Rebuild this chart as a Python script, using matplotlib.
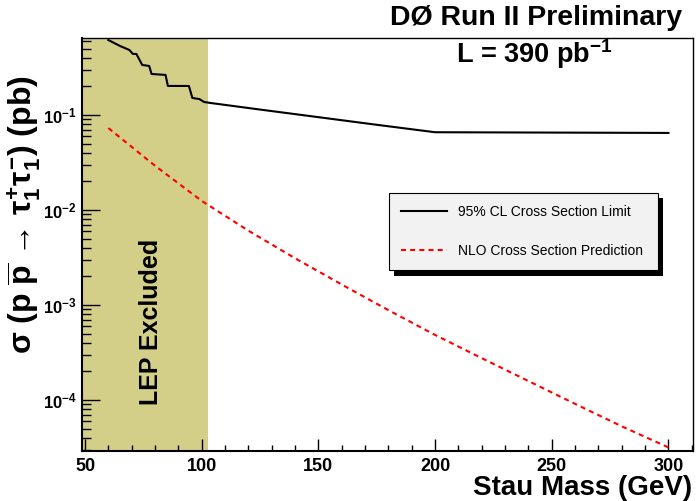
import math
import matplotlib
matplotlib.use('Agg')
import matplotlib.pyplot as plt
from matplotlib.ticker import FixedLocator, LogLocator, FuncFormatter, NullFormatter
from matplotlib.patches import Rectangle

limit_mass = [60, 65, 67, 69, 70.5, 72, 74.5, 77.5, 78.5, 84.5, 85.5, 94.5, 96, 99, 101, 103.5,
              125, 150, 175, 200, 300]
limit_xsec = [0.615, 0.532, 0.507, 0.483, 0.439, 0.439, 0.336, 0.328, 0.270, 0.264, 0.202, 0.202,
              0.151, 0.147, 0.137, 0.134, 0.114, 0.0948, 0.0788, 0.0658, 0.0647]

# NLO prediction
nlo_mass = [60, 80, 100, 120, 140, 160, 180, 200, 220, 240, 260, 280, 300]
nlo_xsec = [0.0728, 0.0292, 0.01245, 0.00605, 0.0031, 0.00164, 0.000881, 0.000483,
            0.000275, 0.000158, 9.08e-5, 5.27e-5, 3.16e-5]

lep_limit = 102.5
x_range = (48.7, 310.5)
y_range = (2.9e-5, 0.646)

plt.rcParams['font.family'] = ['Liberation Sans', 'DejaVu Sans']
plt.rcParams['font.weight'] = 'bold'
plt.rcParams['mathtext.fontset'] = 'custom'
plt.rcParams['mathtext.rm'] = 'Liberation Sans:bold'
plt.rcParams['mathtext.it'] = 'Liberation Sans:bold'
plt.rcParams['mathtext.bf'] = 'Liberation Sans:bold'
plt.rcParams['mathtext.sf'] = 'Liberation Sans:bold'

fig = plt.figure(figsize=(6.97, 5.01), dpi=100)
ax = fig.add_axes([82/697, 50/501, 611/697, 413/501])

ax.set_xlim(*x_range)
ax.set_yscale('log')
ax.set_ylim(*y_range)

ax.axvspan(x_range[0], lep_limit, color='#d3cf89', lw=0, zorder=0)
ax.plot(limit_mass, limit_xsec, color='black', lw=1.5, label='95% CL Cross Section Limit', zorder=3)
ax.plot(nlo_mass, nlo_xsec, color='red', lw=1.5, ls=(0, (2.4, 2.0)),
        label='NLO Cross Section Prediction', zorder=3)

# ticks (ROOT style, inside, only left/bottom)
ax.xaxis.set_major_locator(FixedLocator([50, 100, 150, 200, 250, 300]))
ax.xaxis.set_minor_locator(FixedLocator(list(range(50, 311, 10))))
ax.yaxis.set_major_locator(LogLocator(base=10, numticks=10))
ax.yaxis.set_minor_locator(LogLocator(base=10, subs=range(2, 10), numticks=50))
ax.yaxis.set_minor_formatter(NullFormatter())
ax.yaxis.set_major_formatter(FuncFormatter(lambda v, p: r'$10^{%d}$' % round(math.log10(v))))

ax.tick_params(axis='x', which='major', direction='in', length=8.6, width=1, labelsize=13, pad=5)
ax.tick_params(axis='x', which='minor', direction='in', length=4.3, width=1)
ax.tick_params(axis='y', which='major', direction='in', length=13, width=1, labelsize=12, pad=4)
ax.tick_params(axis='y', which='minor', direction='in', length=6.8, width=1)

for s in ['left', 'bottom']:
    ax.spines[s].set_linewidth(1.5)
for s in ['top', 'right']:
    ax.spines[s].set_linewidth(1.0)

# legend with solid drop shadow
leg = ax.legend(loc='upper left', bbox_to_anchor=(389/697, 308/501, 269/697, 0.0),
                bbox_transform=fig.transFigure, mode='expand', borderaxespad=0,
                fancybox=False, edgecolor='black', facecolor='#f2f2f2', framealpha=1,
                prop={'size': 10, 'weight': 'normal'}, handlelength=3.3, handletextpad=0.8,
                labelspacing=1.8, borderpad=0.85)
leg.get_frame().set_linewidth(0.8)
ax.add_patch(Rectangle((394/697, (501-276)/501), 269/697, 78/501, transform=fig.transFigure,
                       facecolor='black', edgecolor='none', zorder=4.5, clip_on=False))

ax.text((151-82)/611, (451-322)/413, 'LEP Excluded', transform=ax.transAxes, rotation=90,
        ha='center', va='center', fontsize=18)
ax.text(0.74, 0.962, r'L = 390 pb$^{-1}$', transform=ax.transAxes, ha='center', va='center',
        fontsize=19.5)

fig.text(682/697, 1 - 18/501, 'DØ Run II Preliminary', ha='right', va='center', fontsize=20.5)
fig.text(692/697, 1 - 488/501, 'Stau Mass (GeV)', ha='right', va='center', fontsize=20)
fig.text(24/697, 1 - 215/501,
         r'σ (p $\overline{\rm p}$ → $\tau^{+}_{1}\tau^{-}_{1}$) (pb)',
         rotation=90, ha='center', va='center', fontsize=23)

fig.savefig('out.png', dpi=100)
